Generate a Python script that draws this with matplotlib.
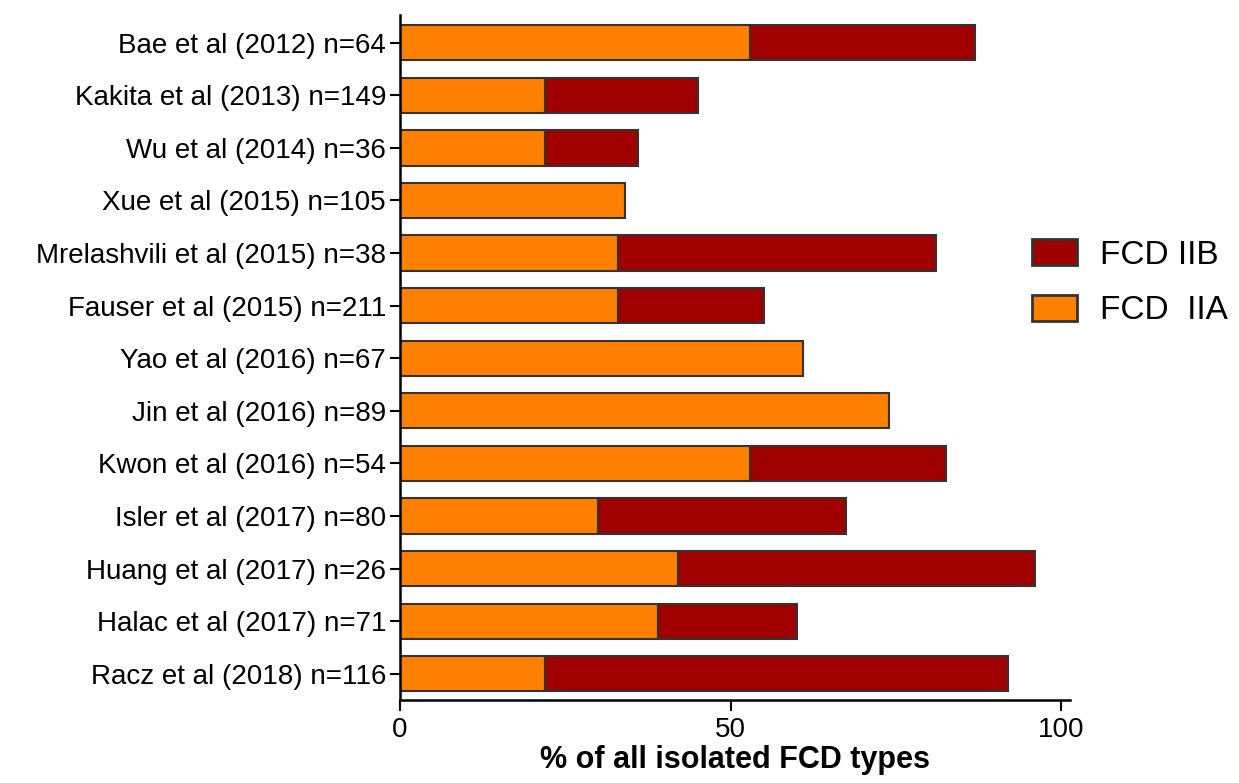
import matplotlib.pyplot as plt
from matplotlib.patches import Patch

studies = ["Bae et al (2012) n=64", "Kakita et al (2013) n=149", "Wu et al (2014) n=36",
           "Xue et al (2015) n=105", "Mrelashvili et al (2015) n=38", "Fauser et al (2015) n=211",
           "Yao et al (2016) n=67", "Jin et al (2016) n=89", "Kwon et al (2016) n=54",
           "Isler et al (2017) n=80", "Huang et al (2017) n=26", "Halac et al (2017) n=71",
           "Racz et al (2018) n=116"]
fcd_iia = [53, 22, 22, 34, 33, 33, 61, 74, 53, 30, 42, 39, 22]
fcd_iib = [34, 23, 14, 0, 48, 22, 0, 0, 29.5, 37.5, 54, 21, 70]

c_iia = "#FF8000"
c_iib = "#A00000"
edge = "#333333"

plt.rcParams['font.family'] = ['Liberation Sans', 'DejaVu Sans']

fig = plt.figure(figsize=(12.39, 7.83), dpi=100)
ax = fig.add_axes([0.3228, 0.106, 0.5412, 0.875])

y = list(range(len(studies)))
ax.barh(y, fcd_iia, height=0.67, color=c_iia, edgecolor=edge, linewidth=1.5)
ax.barh(y, fcd_iib, left=fcd_iia, height=0.67, color=c_iib, edgecolor=edge, linewidth=1.5)

ax.set_ylim(12.5, -0.53)
ax.set_xlim(0, 101.4)
ax.set_yticks(y)
ax.set_yticklabels(studies, fontsize=20)
ax.set_xticks([0, 50, 100])
ax.tick_params(axis='x', labelsize=20, length=8, width=1.5, pad=4)
ax.tick_params(axis='y', length=7, width=1.5, pad=3)
for s in ['top', 'right']:
    ax.spines[s].set_visible(False)
for s in ['left', 'bottom']:
    ax.spines[s].set_linewidth(1.8)
ax.set_xlabel("% of all isolated FCD types", fontsize=22, fontweight='bold', labelpad=2)

handles = [Patch(facecolor=c_iib, edgecolor=edge, linewidth=2, label="FCD IIB"),
           Patch(facecolor=c_iia, edgecolor=edge, linewidth=2, label="FCD  IIA")]
fig.legend(handles=handles, loc='upper left', bbox_to_anchor=(0.833, 0.695), frameon=False,
           fontsize=24, handlelength=1.35, handleheight=0.85, labelspacing=0.72, handletextpad=0.7,
           borderpad=0, borderaxespad=0)

fig.savefig("out.png", dpi=100)
